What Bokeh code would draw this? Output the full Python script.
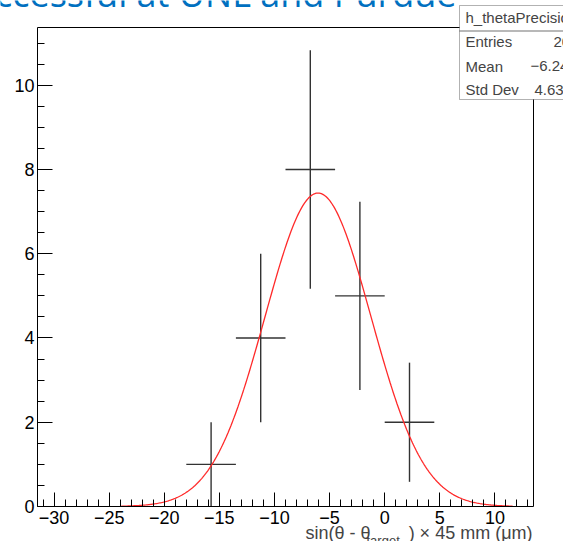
import numpy as np
from bokeh.plotting import figure
from bokeh.models import Range1d, FixedTicker, Label, BoxAnnotation, LinearAxis
from bokeh.embed import file_html
from bokeh.resources import INLINE

# ---- data ----
bin_centers = [-15.75, -11.25, -6.75, -2.25, 2.25]
counts = [1, 4, 8, 5, 2]
bin_width = 4.5
hist_range = [-31.5, 13.5]
x_ticks = [-30, -25, -20, -15, -10, -5, 0, 5, 10]
y_ticks = [0, 2, 4, 6, 8, 10]
fit_constant = 7.44
fit_mean = -6.05
fit_sigma = 4.8
fit_range = [-23.9, 11.6]
stats_name = "h_thetaPrecision"
stats_labels = ["Entries", "Mean", "Std Dev"]
stats_values = ["20", "\u22126.244", "4.635"]
slide_title = "Successful at UNL and Purdue"

FONT = "Liberation Sans"

counts_a = np.array(counts, dtype=float)
centers_a = np.array(bin_centers, dtype=float)
errs = np.sqrt(counts_a)
y_max = float(np.max(counts_a + errs)) * 1.05

W, H = 563, 541
# where the histogram frame sits on the canvas (pixels)
FL, FR, FT, FB = 37, 533, 27, 506
ax_ = (hist_range[1] - hist_range[0]) / (FR - FL)
by_ = y_max / (FB - FT)


def xd(px):
    return hist_range[0] + (px - FL) * ax_


def yd(py):
    return (FB - py) * by_


def ybase(py, fs):
    # label anchor for a text whose baseline should sit at canvas row py
    return yd(py - 0.4 * fs)


p = figure(width=W, height=H, output_backend="svg", toolbar_location=None,
           x_range=Range1d(xd(0), xd(W)), y_range=Range1d(yd(H), yd(0)),
           x_axis_location=None, y_axis_location=None,
           min_border=0, min_border_left=0, min_border_right=0,
           min_border_top=0, min_border_bottom=0)
p.background_fill_color = "white"
p.border_fill_color = "white"
p.outline_line_color = None
p.xgrid.visible = False
p.ygrid.visible = False

xaxis = LinearAxis(fixed_location=0, bounds=(hist_range[0], hist_range[1]),
                   ticker=FixedTicker(ticks=x_ticks, minor_ticks=list(np.arange(-31, 14, 1))))
yaxis = LinearAxis(fixed_location=hist_range[0], bounds=(0, y_max),
                   ticker=FixedTicker(ticks=y_ticks, minor_ticks=list(np.arange(0, 11.5, 0.5))))
xaxis.major_label_overrides = {t: (str(t) if t >= 0 else "\u2212" + str(-t)) for t in x_ticks}
for ax, mj, mn, so in ((xaxis, 14, 7, 4), (yaxis, 15, 7, 3)):
    ax.major_tick_in = mj
    ax.major_tick_out = 0
    ax.minor_tick_in = mn
    ax.minor_tick_out = 0
    ax.axis_line_color = "black"
    ax.major_tick_line_color = "black"
    ax.minor_tick_line_color = "black"
    ax.major_label_text_font = FONT
    ax.major_label_text_font_size = "18px"
    ax.major_label_text_color = "black"
    ax.major_label_standoff = so
p.add_layout(xaxis, "below")
p.add_layout(yaxis, "left")

# top and right frame lines
topaxis = LinearAxis(fixed_location=y_max, bounds=(hist_range[0], hist_range[1]),
                     ticker=FixedTicker(ticks=[]), axis_line_color="black")
rightaxis = LinearAxis(fixed_location=hist_range[1], bounds=(0, y_max),
                       ticker=FixedTicker(ticks=[]), axis_line_color="black")
p.add_layout(topaxis, "above")
p.add_layout(rightaxis, "right")

# histogram error crosses
p.segment(x0=centers_a - bin_width / 2, x1=centers_a + bin_width / 2, y0=counts_a, y1=counts_a,
          line_color="#333333", line_width=1.4)
p.segment(x0=centers_a, x1=centers_a, y0=counts_a - errs, y1=counts_a + errs,
          line_color="#333333", line_width=1.4)

# gaussian fit
xs = np.linspace(fit_range[0], fit_range[1], 400)
ys = fit_constant * np.exp(-0.5 * ((xs - fit_mean) / fit_sigma) ** 2)
p.line(xs, ys, line_color="#ff2a2a", line_width=1.3)

# slide title remnant at the top
p.add_layout(Label(x=xd(456), y=ybase(7, 36), text=slide_title, text_font="Open Sans",
                   text_font_size="36px", text_color="#0070c0", text_baseline="alphabetic",
                   text_align="right"))

# x axis title
p.add_layout(Label(x=xd(305), y=ybase(540, 18), text="sin(\u03b8 - \u03b8", text_font=FONT,
                   text_font_size="18px", text_baseline="alphabetic", text_align="left"))
p.add_layout(Label(x=xd(366), y=ybase(545, 13), text="target", text_font=FONT,
                   text_font_size="13px", text_baseline="alphabetic", text_align="left"))
p.add_layout(Label(x=xd(532), y=ybase(540, 18), text=") \u00d7 45 mm (\u03bcm)", text_font=FONT,
                   text_font_size="18px", text_baseline="alphabetic", text_align="right"))

# stats box
p.add_layout(BoxAnnotation(left=xd(459), right=xd(620), top=yd(5), bottom=yd(99),
                           fill_color="white", fill_alpha=1.0, line_color="black",
                           line_width=1, level="overlay"))
p.add_layout(BoxAnnotation(left=xd(459), right=xd(620), top=yd(30.5), bottom=yd(30.5),
                           fill_alpha=0, line_color="black", line_width=1, level="overlay"))
p.add_layout(Label(x=xd(465), y=ybase(23, 15), text=stats_name, text_font=FONT,
                   text_font_size="15px", text_baseline="alphabetic", level="overlay"))
for lab, val, base, vx in zip(stats_labels, stats_values, [47, 71.5, 95], [553, 530, 534]):
    p.add_layout(Label(x=xd(465), y=ybase(base, 15), text=lab, text_font=FONT,
                       text_font_size="15px", text_baseline="alphabetic", level="overlay"))
    p.add_layout(Label(x=xd(vx), y=ybase(base, 15), text=val, text_font=FONT,
                       text_font_size="15px", text_baseline="alphabetic", level="overlay"))

open("out.html", "w").write(file_html(p, INLINE))
